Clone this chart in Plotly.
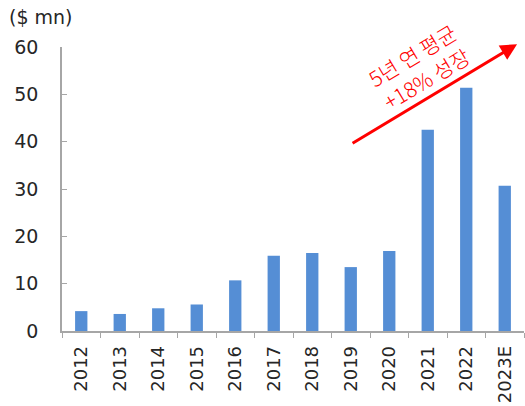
import plotly.graph_objects as go

years = ["2012", "2013", "2014", "2015", "2016", "2017", "2018", "2019", "2020", "2021", "2022", "2023E"]
values = [4.2, 3.6, 4.8, 5.6, 10.7, 15.9, 16.5, 13.5, 16.9, 42.5, 51.4, 30.7]
y_ticks = [0, 10, 20, 30, 40, 50, 60]

num_font = "DejaVu Sans, sans-serif"
kr_font = "Noto Sans CJK KR, sans-serif"

fig = go.Figure(
    go.Bar(
        x=years,
        y=values,
        marker=dict(color="#558ed5", line=dict(width=0)),
        width=0.32,
    )
)

fig.update_layout(
    width=525,
    height=406,
    margin=dict(l=62, r=1, t=47, b=75),
    plot_bgcolor="white",
    paper_bgcolor="white",
    showlegend=False,
)

fig.update_xaxes(
    type="category",
    range=[-0.5, 11.5],
    showline=True,
    linecolor="#a6a6a6",
    linewidth=1.5,
    showgrid=False,
    ticks="outside",
    tickson="boundaries",
    ticklen=5,
    tickcolor="#a6a6a6",
    tickangle=-90,
    tickfont=dict(family=num_font, size=18, color="#262626"),
    ticklabelstandoff=6,
)

fig.update_yaxes(
    range=[0, 60],
    tickvals=y_ticks,
    showline=True,
    linecolor="#a6a6a6",
    linewidth=1.5,
    showgrid=False,
    zeroline=False,
    ticks="inside",
    ticklen=5,
    tickcolor="#a6a6a6",
    tickfont=dict(family=num_font, size=19, color="#262626"),
    ticklabelstandoff=18,
)

# unit label above the value axis
fig.add_annotation(
    text="($ mn)", xref="paper", yref="paper", x=-0.118, y=1.06,
    xanchor="left", yanchor="bottom", showarrow=False,
    font=dict(family=num_font, size=19, color="#262626"),
)

# growth arrow
fig.add_annotation(
    text="", xref="paper", yref="paper", x=0.985, y=1.01,
    ax=-166, ay=100, showarrow=True,
    arrowhead=2, arrowsize=1.1, arrowwidth=3, arrowcolor="#ff0000",
)

# growth caption along the arrow
fig.add_annotation(
    text="5년 연 평균<br>+18% 성장", xref="paper", yref="paper",
    x=(420 - 62) / 463, y=(331 - 66) / 284,
    xanchor="center", yanchor="middle",
    showarrow=False, textangle=-31,
    font=dict(family=kr_font, size=21, color="#ff0000", weight=300),
)

fig.write_html("out.html")
